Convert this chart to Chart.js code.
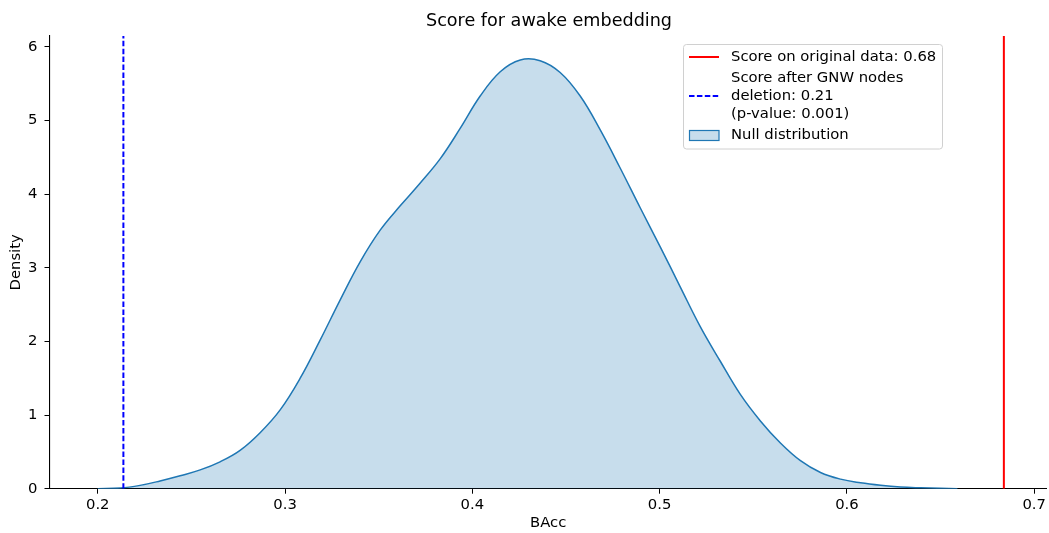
<!DOCTYPE html>
<html>
<head>
<meta charset="utf-8">
<script src="https://cdn.jsdelivr.net/npm/chart.js@4/dist/chart.umd.min.js"></script>
<style>
  html, body { margin: 0; padding: 0; background: #fff; }
  #wrap { position: relative; width: 1049px; height: 533px; }
</style>
</head>
<body>
<div id="wrap"><canvas id="c" width="1049" height="533"></canvas></div>
<script>
// Kernel density estimate of the null (permutation) distribution of balanced accuracy
const densityX = [0.2000, 0.2120, 0.2226, 0.2333, 0.2440, 0.2547, 0.2653, 0.2760, 0.2867, 0.2974,
  0.3081, 0.3188, 0.3294, 0.3401, 0.3508, 0.3615, 0.3722, 0.3829, 0.3935, 0.4042,
  0.4149, 0.4256, 0.4362, 0.4469, 0.4576, 0.4683, 0.4790, 0.4897, 0.5004, 0.5110,
  0.5217, 0.5324, 0.5431, 0.5538, 0.5645, 0.5752, 0.5859, 0.5966, 0.6073, 0.6180,
  0.6286, 0.6393, 0.6500, 0.6590];
const densityY = [0.000, 0.008, 0.045, 0.105, 0.175, 0.255, 0.365, 0.520, 0.760, 1.070,
  1.500, 2.020, 2.560, 3.080, 3.510, 3.840, 4.150, 4.480, 4.890, 5.330,
  5.660, 5.820, 5.810, 5.650, 5.330, 4.870, 4.350, 3.810, 3.280, 2.740,
  2.200, 1.730, 1.280, 0.920, 0.620, 0.380, 0.220, 0.130, 0.080, 0.046,
  0.023, 0.012, 0.005, 0.000];

// Reference scores
const originalScore = 0.6838;
const deletionScore = 0.2137;
const pValue = 0.001;

// Axis ticks
const xTicks = [0.2, 0.3, 0.4, 0.5, 0.6, 0.7];
const xTickLabels = ['0.2', '0.3', '0.4', '0.5', '0.6', '0.7'];
const yTicks = [0, 1, 2, 3, 4, 5, 6];
const yTickLabels = ['0', '1', '2', '3', '4', '5', '6'];

const X_MIN = 0.17425, X_MAX = 0.7068;
const Y_MIN = 0, Y_MAX = 6.145;

const FONT = 'DejaVu Sans';
const FS = 14.8;
const KDE_LINE = '#1f77b4';
const KDE_FILL = 'rgba(31,119,180,0.25)';

const labelOriginal = 'Score on original data: ' + originalScore.toFixed(2);
const labelDeletion = ['Score after GNW nodes', 'deletion: ' + deletionScore.toFixed(2), '(p-value: ' + pValue.toFixed(3) + ')'];
const labelNull = 'Null distribution';

const kdePoints = densityX.map((x, i) => ({ x: x, y: densityY[i] }));

// Title and matplotlib-style legend drawn on the canvas
const decorations = {
  id: 'decorations',
  afterDraw(chart) {
    const ctx = chart.ctx;
    ctx.save();
    // title
    ctx.fillStyle = '#000';
    ctx.font = '17.6px "' + FONT + '"';
    ctx.textAlign = 'center';
    ctx.textBaseline = 'middle';
    ctx.fillText('Score for awake embedding', 549, 21.5);

    // legend frame
    const bx = 683.5, by = 44.5, bw = 259, bh = 104.5, r = 3;
    ctx.beginPath();
    ctx.moveTo(bx + r, by);
    ctx.lineTo(bx + bw - r, by); ctx.arcTo(bx + bw, by, bx + bw, by + r, r);
    ctx.lineTo(bx + bw, by + bh - r); ctx.arcTo(bx + bw, by + bh, bx + bw - r, by + bh, r);
    ctx.lineTo(bx + r, by + bh); ctx.arcTo(bx, by + bh, bx, by + bh - r, r);
    ctx.lineTo(bx, by + r); ctx.arcTo(bx, by, bx + r, by, r);
    ctx.closePath();
    ctx.fillStyle = 'rgba(255,255,255,0.8)';
    ctx.fill();
    ctx.strokeStyle = '#d0d0d0';
    ctx.lineWidth = 1;
    ctx.stroke();

    const hx0 = 689, hx1 = 719, tx = 731;
    ctx.font = FS + 'px "' + FONT + '"';
    ctx.textAlign = 'left';
    ctx.textBaseline = 'middle';

    // entry 1: red solid line
    ctx.strokeStyle = 'red'; ctx.lineWidth = 2; ctx.setLineDash([]);
    ctx.beginPath(); ctx.moveTo(hx0, 57); ctx.lineTo(hx1, 57); ctx.stroke();
    ctx.fillStyle = '#000';
    ctx.fillText(labelOriginal, tx, 57);

    // entry 2: blue dashed line, three text lines
    ctx.strokeStyle = 'blue'; ctx.lineWidth = 2; ctx.setLineDash([5.5, 2.4]);
    ctx.beginPath(); ctx.moveTo(hx0, 96); ctx.lineTo(hx1, 96); ctx.stroke();
    ctx.setLineDash([]);
    labelDeletion.forEach((t, i) => ctx.fillText(t, tx, 78.5 + i * 17.8));

    // entry 3: filled patch
    ctx.fillStyle = 'rgb(199,221,236)';
    ctx.fillRect(689.5, 130.5, 29.5, 10);
    ctx.strokeStyle = KDE_LINE; ctx.lineWidth = 1.2;
    ctx.strokeRect(689.5, 130.5, 29.5, 10);
    ctx.fillStyle = '#000';
    ctx.fillText(labelNull, tx, 135.5);
    ctx.restore();
  }
};

new Chart(document.getElementById('c'), {
  type: 'line',
  data: {
    datasets: [
      {
        label: labelNull,
        data: kdePoints,
        borderColor: KDE_LINE,
        backgroundColor: KDE_FILL,
        borderWidth: 1.5,
        fill: 'origin',
        pointRadius: 0,
        tension: 0.4,
        order: 3
      },
      {
        label: labelOriginal,
        data: [{ x: originalScore, y: Y_MIN }, { x: originalScore, y: Y_MAX }],
        borderColor: 'red',
        borderWidth: 2,
        pointRadius: 0,
        fill: false,
        order: 1
      },
      {
        label: labelDeletion.join(' '),
        data: [{ x: deletionScore, y: Y_MIN }, { x: deletionScore, y: Y_MAX }],
        borderColor: 'blue',
        borderWidth: 2,
        borderDash: [5.5, 2.4],
        pointRadius: 0,
        fill: false,
        order: 1
      }
    ]
  },
  options: {
    responsive: false,
    animation: false,
    devicePixelRatio: 1,
    layout: { padding: { top: 36, right: 2, left: 0, bottom: 0 } },
    plugins: {
      legend: { display: false },
      title: { display: false },
      tooltip: { enabled: false }
    },
    scales: {
      x: {
        type: 'linear',
        min: X_MIN,
        max: X_MAX,
        afterBuildTicks: (s) => { s.ticks = xTicks.map(v => ({ value: v })); },
        afterFit: (s) => { s.height = 44.3; },
        ticks: {
          callback: (v, i) => xTickLabels[i],
          color: '#000',
          font: { family: FONT, size: FS },
          padding: 3,
          maxRotation: 0
        },
        grid: { display: true, drawOnChartArea: false, drawTicks: true, tickLength: 5, color: '#000', lineWidth: 1 },
        border: { display: true, color: '#000', width: 1.1 },
        title: { display: true, text: 'BAcc', color: '#000', font: { family: FONT, size: FS }, padding: { top: 0, bottom: 1 } }
      },
      y: {
        type: 'linear',
        min: Y_MIN,
        max: Y_MAX,
        afterBuildTicks: (s) => { s.ticks = yTicks.map(v => ({ value: v })); },
        afterFit: (s) => { s.width = 49.5; },
        ticks: {
          callback: (v, i) => yTickLabels[i],
          color: '#000',
          font: { family: FONT, size: FS },
          padding: 7
        },
        grid: { display: true, drawOnChartArea: false, drawTicks: true, tickLength: 5, color: '#000', lineWidth: 1 },
        border: { display: true, color: '#000', width: 1.1 },
        title: { display: true, text: 'Density', color: '#000', font: { family: FONT, size: FS }, padding: { top: 7, bottom: 0 } }
      }
    }
  },
  plugins: [decorations]
});
</script>
</body>
</html>
